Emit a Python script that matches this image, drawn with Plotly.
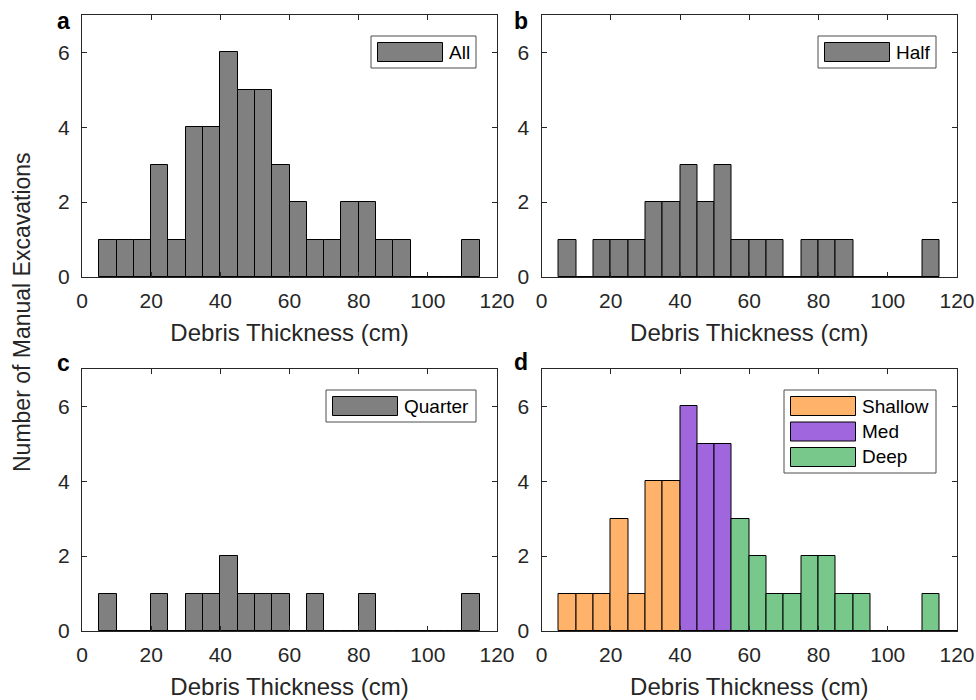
import plotly.graph_objects as go

# ---- data: histogram counts of debris thickness, 5 cm bins ----
bin_width = 5
bin_left = [5, 10, 15, 20, 25, 30, 35, 40, 45, 50, 55, 60, 65, 70, 75, 80,
            85, 90, 95, 100, 105, 110]
counts_all = [1, 1, 1, 3, 1, 4, 4, 6, 5, 5, 3, 2, 1, 1, 2, 2, 1, 1, 0, 0, 0, 1]
counts_half = [1, 0, 1, 1, 1, 2, 2, 3, 2, 3, 1, 1, 1, 0, 1, 1, 1, 0, 0, 0, 0, 1]
counts_quarter = [1, 0, 0, 1, 0, 1, 1, 2, 1, 1, 1, 0, 1, 0, 0, 1, 0, 0, 0, 0, 0, 1]

shallow_left = [5, 10, 15, 20, 25, 30, 35]
shallow_counts = [1, 1, 1, 3, 1, 4, 4]
med_left = [40, 45, 50]
med_counts = [6, 5, 5]
deep_left = [55, 60, 65, 70, 75, 80, 85, 90, 95, 100, 105, 110, 115]
deep_counts = [3, 2, 1, 1, 2, 2, 1, 1, 0, 0, 0, 1, 0]

x_ticks = [0, 20, 40, 60, 80, 100, 120]
y_ticks = [0, 2, 4, 6]
x_title = "Debris Thickness (cm)"
y_title = "Number of Manual Excavations"
panel_letters = ["a", "b", "c", "d"]

# ---- styling ----
W, H = 976, 700
FONT = "Liberation Sans, Arial, Helvetica, sans-serif"
AX = "#262626"
GRAY = "#808080"
C_SHALLOW = "#FFB26A"
C_MED = "#A066DD"
C_DEEP = "#77C88A"


def centers(lefts):
    return [v + bin_width / 2 for v in lefts]


def px_x(p):
    return p / W


def px_y(p):
    return 1 - p / H


# axis boxes in pixels: (left, right, top, bottom)
boxes = {
    1: (82, 497, 15, 277),
    2: (541.5, 957, 15, 277),
    3: (82, 497, 369, 631),
    4: (541.5, 957, 369, 631),
}

fig = go.Figure()


def add_bars(idx, lefts, counts, color, name):
    suffix = "" if idx == 1 else str(idx)
    fig.add_trace(go.Bar(
        x=centers(lefts), y=counts, width=bin_width, name=name,
        marker=dict(color=color, line=dict(color="black", width=1)),
        xaxis="x" + suffix, yaxis="y" + suffix, showlegend=False,
    ))


add_bars(1, bin_left, counts_all, GRAY, "All")
add_bars(2, bin_left, counts_half, GRAY, "Half")
add_bars(3, bin_left, counts_quarter, GRAY, "Quarter")
add_bars(4, shallow_left, shallow_counts, C_SHALLOW, "Shallow")
add_bars(4, med_left, med_counts, C_MED, "Med")
add_bars(4, deep_left, deep_counts, C_DEEP, "Deep")

layout = dict(
    width=W, height=H, margin=dict(l=0, r=0, t=0, b=0, autoexpand=False),
    paper_bgcolor="white", plot_bgcolor="white",
    font=dict(family=FONT, color=AX, size=21),
    bargap=0, barmode="overlay",
)

for idx, (l, r, t, b) in boxes.items():
    suffix = "" if idx == 1 else str(idx)
    layout["xaxis" + suffix] = dict(
        domain=[px_x(l), px_x(r)], range=[0, 120], anchor="y" + suffix,
        tickvals=x_ticks, ticks="inside", ticklen=5, tickcolor=AX,
        showline=True, linecolor=AX, linewidth=1, mirror="ticks",
        showgrid=False, zeroline=False, ticklabelstandoff=5, automargin=False,
        tickfont=dict(size=21, color=AX),
        title=dict(text=x_title, font=dict(size=24, color=AX), standoff=12),
    )
    layout["yaxis" + suffix] = dict(
        domain=[px_y(b), px_y(t)], range=[0, 7], anchor="x" + suffix,
        tickvals=y_ticks, ticks="inside", ticklen=5, tickcolor=AX,
        showline=True, linecolor=AX, linewidth=1, mirror="ticks",
        showgrid=False, zeroline=False, ticklabelstandoff=7, automargin=False,
        tickfont=dict(size=21, color=AX),
    )

fig.update_layout(**layout)

shapes = []
annotations = []

# legends: boxes with wide swatches, anchored near the top-right of each axis
legend_specs = {
    1: (105, [("All", GRAY)]),
    2: (118, [("Half", GRAY)]),
    3: (150, [("Quarter", GRAY)]),
    4: (152, [("Shallow", C_SHALLOW), ("Med", C_MED), ("Deep", C_DEEP)]),
}
for idx, (bw, items) in legend_specs.items():
    l, r, t, b = boxes[idx]
    bx1 = r - 21
    bx0 = bx1 - bw
    by0 = t + 21
    row_h = 25.5
    by1 = by0 + 7 + row_h * len(items) - 0.5
    shapes.append(dict(type="rect", xref="paper", yref="paper",
                       x0=px_x(bx0), x1=px_x(bx1), y0=px_y(by0), y1=px_y(by1),
                       line=dict(color="#4d4d4d", width=1), fillcolor="white",
                       layer="above"))
    for k, (label, col) in enumerate(items):
        sy0 = by0 + 6.5 + row_h * k
        sy1 = sy0 + 19
        sx0 = bx0 + 6.5
        sx1 = sx0 + 65
        shapes.append(dict(type="rect", xref="paper", yref="paper",
                           x0=px_x(sx0), x1=px_x(sx1), y0=px_y(sy0), y1=px_y(sy1),
                           line=dict(color="black", width=1), fillcolor=col,
                           layer="above"))
        annotations.append(dict(text=label, xref="paper", yref="paper",
                                x=px_x(sx1 + 4), y=px_y((sy0 + sy1) / 2),
                                xanchor="left", yanchor="middle", showarrow=False,
                                font=dict(size=19, color="black")))

# panel letters
letter_pos = {1: (63, 21), 2: (521, 21), 3: (63, 363), 4: (521, 362)}
for idx, letter in zip(range(1, 5), panel_letters):
    lx, ly = letter_pos[idx]
    annotations.append(dict(text="<b>%s</b>" % letter, xref="paper", yref="paper",
                            x=px_x(lx), y=px_y(ly), xanchor="center",
                            yanchor="middle", showarrow=False,
                            font=dict(size=23, color="black")))

# shared y-axis title
annotations.append(dict(text=y_title, xref="paper", yref="paper",
                        x=px_x(22), y=px_y(312), xanchor="center",
                        yanchor="middle", textangle=-90, showarrow=False,
                        font=dict(size=23, color=AX)))

fig.update_layout(shapes=shapes, annotations=annotations)
fig.write_html("out.html")
